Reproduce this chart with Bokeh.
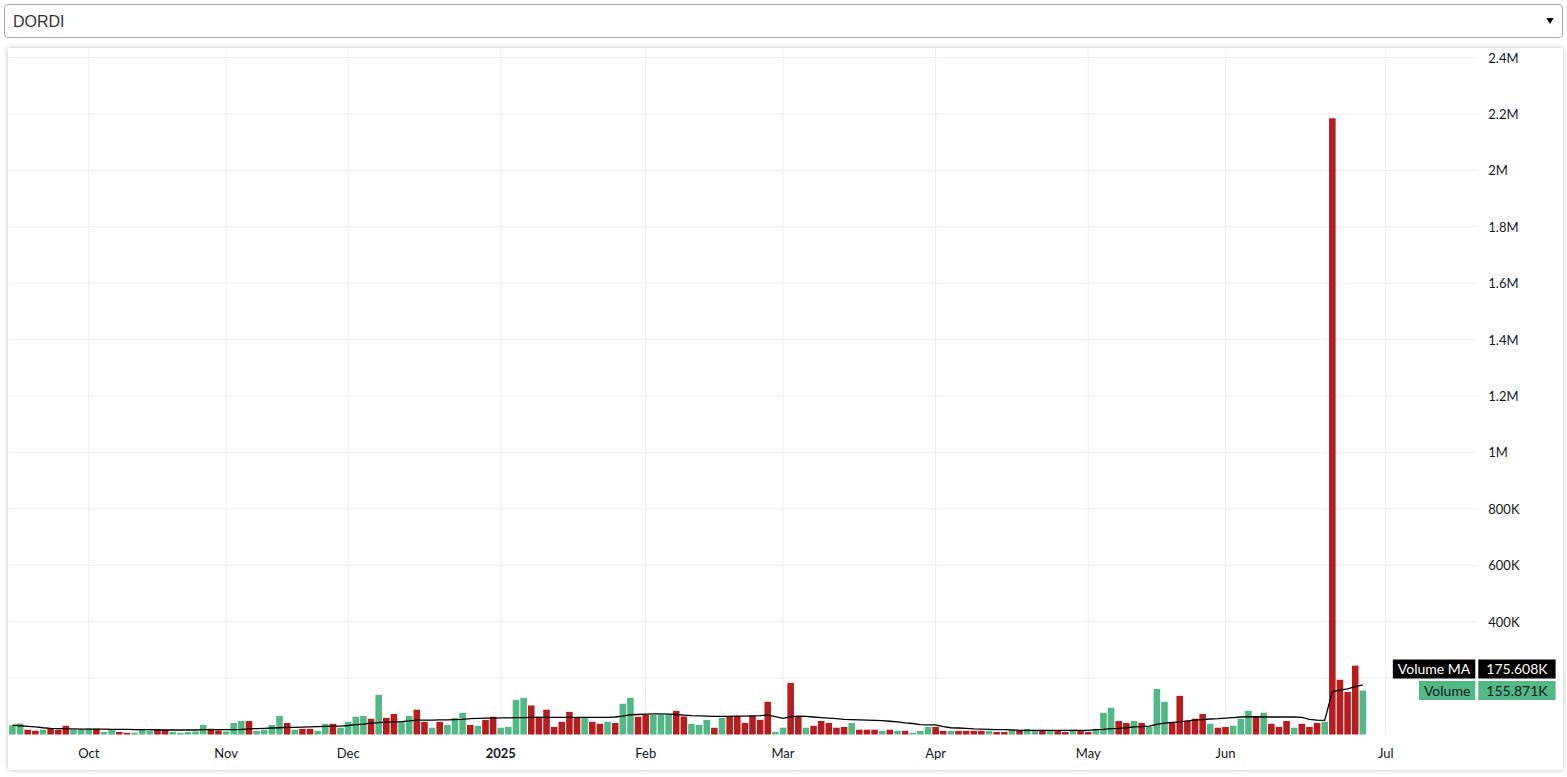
from bokeh.plotting import figure
from bokeh.models import ColumnDataSource, Range1d, Label, Select, InlineStyleSheet
from bokeh.core.properties import value
from bokeh.layouts import column
from bokeh.embed import file_html
from bokeh.resources import INLINE

symbol = "DORDI"

# daily traded volume, thousands of shares (one value per trading day)
volume_k = [
    33, 39, 17, 13, 17, 22, 17, 31, 18, 18,
    21, 20, 9, 19, 9, 6, 6, 17, 13, 19,
    17, 9, 6, 9, 11, 34, 20, 14, 11, 41,
    48, 48, 13, 17, 34, 66, 41, 17, 20, 20,
    13, 38, 38, 24, 45, 63, 66, 56, 141, 59,
    73, 48, 66, 88, 45, 24, 45, 34, 59, 77,
    34, 31, 52, 63, 24, 27, 123, 130, 103, 63,
    88, 27, 45, 80, 59, 59, 45, 38, 45, 41,
    109, 130, 63, 70, 70, 70, 70, 84, 64, 38,
    34, 52, 24, 59, 66, 66, 41, 66, 52, 116,
    9, 24, 183, 63, 24, 31, 48, 41, 24, 27,
    41, 17, 17, 17, 13, 17, 13, 13, 6, 13,
    27, 27, 13, 13, 13, 13, 13, 13, 13, 9,
    9, 13, 13, 20, 13, 13, 13, 13, 9, 17,
    13, 9, 20, 77, 95, 48, 41, 48, 41, 27,
    162, 116, 41, 137, 48, 56, 73, 38, 24, 27,
    31, 56, 84, 63, 77, 38, 27, 48, 24, 38,
    27, 41, 45, 2185, 194, 151, 244, 155.871,
]

# g = up day (green), r = down day (red)
direction = (
    "ggrrgrrrgg"
    "grggrrgggr"
    "rggggg" "rrgg"
    "grgggg" "rgrr"
    "ggrggg" "grgr"
    "rggrrgrggg"
    "rgrrggg" "grr"
    "rrrrrgrrgr"
    "ggrrgggrrg"
    "gg" "rg" "rrrrrr"
    "ggrrgrrrrr"
    "grrrgrgrgg"
    "grrgrrrrgr"
    "rgrggrgrrg"
    "rrgggrrgrg"
    "ggrrrrrgrr"
    "gggrgrrrgr"
    "rrgrrrrg"
)

# 20-day volume moving average, thousands
ma_k = [
    33, 31, 29, 27, 24, 22, 21, 20, 20, 19,
    19, 19, 19, 18, 18, 18, 17, 17, 17, 16,
    16, 16, 16, 16, 16, 17, 17, 17, 17, 17,
    18, 20, 21, 22, 23, 24, 25, 25, 26, 27,
    28, 29, 30, 30, 32, 35, 37, 40, 42, 44,
    45, 46, 48, 51, 51, 51, 52, 52, 53, 54,
    56, 57, 58, 58, 59, 59, 60, 60, 61, 61,
    61, 61, 61, 61, 61, 61, 61, 61, 61, 62,
    65, 70, 71, 72, 73, 73, 72, 71, 69, 67,
    66, 65, 64, 64, 64, 65, 65, 66, 67, 69,
    63, 57, 63, 65, 64, 62, 60, 58, 56, 54,
    53, 52, 51, 50, 49, 47, 45, 41, 39, 35,
    34, 34, 28, 24, 23, 22, 20, 19, 18, 17,
    17, 16, 15, 15, 15, 15, 15, 15, 15, 15,
    15, 15, 17, 18, 21, 22, 24, 27, 28, 30,
    36, 40, 43, 45, 48, 51, 53, 55, 56, 58,
    60, 62, 63, 63, 62, 62, 62, 62, 62, 61,
    54, 51, 50, 152, 157, 162, 170, 175.608,
]

# first trading bar of each month (bar index) and its label
month_first_bar = [10, 28, 44, 64, 83, 101, 121, 141, 159, 180]
month_labels = ["Oct", "Nov", "Dec", "2025", "Feb", "Mar", "Apr", "May", "Jun", "Jul"]
month_bold = [False, False, False, True, False, False, False, False, False, False]

y_tick_values = [200000, 400000, 600000, 800000, 1000000, 1200000, 1400000,
                 1600000, 1800000, 2000000, 2200000, 2400000]
y_tick_labels = ["", "400K", "600K", "800K", "1M", "1.2M", "1.4M",
                 "1.6M", "1.8M", "2M", "2.2M", "2.4M"]

GREEN = "#52b986"
RED = "#b71c1f"
GRID = "#eeeeee"
FONT = "Lato"
TXT = "#131722"

# view window in bar-index / volume units
X_START, PANE_END, X_END = -0.52, 192.0, 203.3
Y_START, Y_END = -127600, 2432000

n = len(volume_k)
xs = list(range(n))
vols = [v * 1000 for v in volume_k]
mas = [m * 1000 for m in ma_k]
cols = [GREEN if d == "g" else RED for d in direction[:n]]

src = ColumnDataSource(dict(x=xs, vol=vols, ma=mas, color=cols))

p = figure(width=1555, height=722, output_backend="svg", toolbar_location=None, tools="",
           x_range=Range1d(X_START, X_END), y_range=Range1d(Y_START, Y_END),
           min_border_left=0, min_border_top=0, min_border_bottom=0, min_border_right=0,
           margin=(0, 0, 0, 4))
p.axis.visible = False
p.grid.visible = False
p.outline_line_color = None
p.background_fill_color = "white"
p.border_fill_color = "white"
p.styles = {"box-shadow": "0 0 5px rgba(0,0,0,0.25)"}

# grid lines (stop at the pane edges, like the price/time scales of the original)
p.segment(x0=[X_START] * len(y_tick_values), x1=[PANE_END] * len(y_tick_values),
          y0=y_tick_values, y1=y_tick_values, line_color=GRID, line_width=1)
p.segment(x0=month_first_bar, x1=month_first_bar, y0=[0] * len(month_first_bar),
          y1=[Y_END] * len(month_first_bar), line_color=GRID, line_width=1)

p.vbar(x="x", top="vol", bottom=0, width=0.86, fill_color="color", line_color=None, source=src)
p.line(x="x", y="ma", line_color="black", line_width=1.3, source=src)

# price scale labels
ysrc = ColumnDataSource(dict(x=[PANE_END] * len(y_tick_values), y=y_tick_values, t=y_tick_labels))
p.text(x="x", y="y", text="t", source=ysrc, x_offset=11, text_align="left",
       text_baseline="middle", text_font=value(FONT), text_font_size="13px", text_color=TXT)

# time scale labels
xsrc = ColumnDataSource(dict(x=month_first_bar, y=[0] * len(month_first_bar), t=month_labels,
                             st=["bold" if b else "normal" for b in month_bold]))
p.text(x="x", y="y", text="t", source=xsrc, y_offset=18, text_align="center",
       text_baseline="middle", text_font=value(FONT), text_font_size="13px",
       text_font_style="st", text_color=TXT)

def fmt_k(v):
    return f"{v / 1000:.3f}K"

tags = [
    ("Volume MA", fmt_k(mas[-1]), mas[-1], 16, "black", "white"),
    ("Volume", fmt_k(vols[-1]), vols[-1], 0, GREEN, TXT),
]
for title, val, yv, yoff, bg, fg in tags:
    p.add_layout(Label(x=PANE_END, y=yv, x_offset=-2, y_offset=yoff, text=title,
                       text_align="right", text_baseline="middle", text_font=FONT,
                       text_font_size="14px", text_color=fg, background_fill_color=bg,
                       padding=(5, 1)))
    p.add_layout(Label(x=PANE_END, y=yv, x_offset=1, y_offset=yoff, text=val,
                       text_align="left", text_baseline="middle", text_font=FONT,
                       text_font_size="14px", text_color=fg, background_fill_color=bg,
                       padding=(8, 1)))

css = (".bk-input{font-size:16px;font-family:'Liberation Sans',Arial,sans-serif;color:#333;"
       "border:1px solid #a9a9a9;border-radius:4px;padding:0 8px;background-color:#fff;"
       "width:100%;height:34px;}")
sel = Select(options=[symbol], value=symbol, width=1559, height=34, margin=(0, 0, 0, 0),
             stylesheets=[InlineStyleSheet(css=css)])

layout = column(sel, p, spacing=10, margin=(4, 0, 0, 4))

open("out.html", "w").write(file_html(layout, INLINE))
